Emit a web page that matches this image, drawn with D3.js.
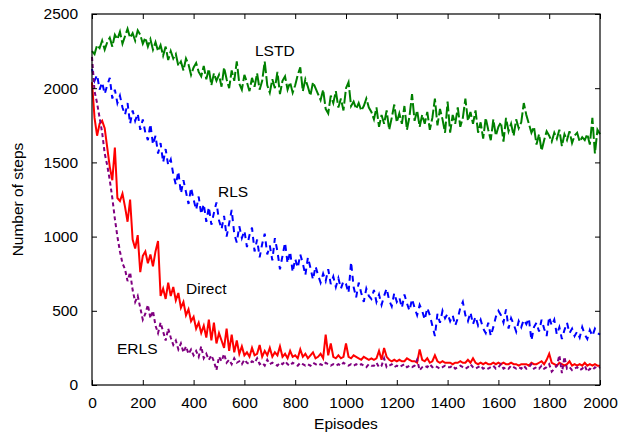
<!DOCTYPE html>
<meta charset="utf-8">
<style>
  body { margin: 0; background: #fff; }
  text { font-family: "Liberation Sans", Arial, sans-serif; fill: #000; }
  .tick text { font-size: 15.5px; }
  .label { font-size: 15.5px; }
  .line { fill: none; stroke-width: 2; stroke-linejoin: miter; }
</style>
<body>
<script src="https://d3js.org/d3.v7.min.js"></script>
<script>

// Episodes sampled every 10 steps
var episodes = d3.range(0, 2001, 10);

var xTicks = [0, 200, 400, 600, 800, 1000, 1200, 1400, 1600, 1800, 2000];
var yTicks = [0, 500, 1000, 1500, 2000, 2500];

// Number of steps per episode
var lstd = [2250,
  2230, 2290, 2270, 2320, 2260, 2310, 2340, 2280, 2360, 2330,
  2380, 2300, 2350, 2400, 2340, 2370, 2320, 2390, 2360, 2300,
  2340, 2280, 2330, 2260, 2310, 2250, 2290, 2220, 2280, 2190,
  2250, 2200, 2230, 2150, 2180, 2120, 2200, 2160, 2090, 2140,
  2170, 2110, 2080, 2150, 2060, 2130, 2020, 2100, 2050, 2090,
  2010, 2140, 2060, 2000, 2120, 2050, 2180, 2030, 1990, 2090,
  2040, 1980, 2070, 2010, 2100, 1990, 2050, 2180, 2020, 1970,
  2060, 2000, 2110, 1960, 2050, 2080, 1990, 2040, 1970, 2020,
  2090, 2140, 1980, 2060, 2010, 1950, 2040, 2000, 1960, 1920,
  1990, 1860, 1830, 1950, 1900, 1980, 1870, 1930, 1850, 2000,
  2040, 1880, 1910, 1860, 1900, 1850, 1880, 1930, 1870, 1840,
  1790, 1870, 1740, 1820, 1760, 1850, 1720, 1800, 1890, 1770,
  1830, 1760, 1880, 1720, 1810, 1960, 1780, 1850, 1740, 1820,
  1760, 1840, 1720, 1800, 1930, 1750, 1860, 1790, 1700, 1910,
  1700, 1820, 1760, 1870, 1740, 1800, 1930, 1780, 1840, 1760,
  1850, 1700, 1770, 1660, 1800, 1720, 1650, 1790, 1680, 1740,
  1770, 1640, 1800, 1710, 1760, 1680, 1790, 1730, 1770, 1900,
  1820, 1760, 1700, 1740, 1620, 1690, 1580, 1650, 1710, 1680,
  1640, 1700, 1660, 1720, 1610, 1690, 1650, 1710, 1630, 1680,
  1700, 1640, 1670, 1650, 1690, 1620, 1800, 1560, 1720, 1690];

var rls = [2130,
  2050, 2090, 1990, 2040, 1960, 2020, 2070, 1930, 1990, 1900,
  1950, 1870, 1820, 1900, 1760, 1850, 1780, 1830, 1720, 1790,
  1700, 1650, 1760, 1620, 1680, 1560, 1630, 1500, 1590, 1480,
  1520, 1420, 1350, 1440, 1290, 1380, 1300, 1220, 1330, 1250,
  1180, 1270, 1150, 1220, 1100, 1200, 1080, 1160, 1230, 1110,
  1050, 1140, 1000, 1090, 1180, 1020, 960, 1070, 990, 1040,
  930, 1010, 1060, 900, 980, 860, 950, 1020, 880, 940,
  840, 990, 900, 780, 870, 960, 820, 900, 760, 850,
  790, 880, 820, 740, 860, 790, 710, 800, 740, 690,
  750, 700, 780, 680, 730, 660, 720, 650, 700, 680,
  620, 830, 660, 590, 690, 620, 560, 650, 600, 580,
  640, 560, 610, 540, 600, 650, 570, 530, 620, 560,
  590, 520, 610, 550, 500, 580, 520, 470, 540, 500,
  440, 520, 470, 400, 330, 480, 420, 500, 450, 480,
  430, 470, 400, 450, 520, 560, 470, 430, 490, 410,
  460, 400, 440, 380, 350, 420, 330, 390, 460, 500,
  470, 420, 510, 380, 450, 410, 360, 430, 390, 440,
  410, 450, 300, 390, 420, 360, 440, 380, 330, 460,
  400, 440, 340, 390, 310, 370, 420, 350, 380, 330,
  360, 320, 390, 340, 310, 370, 330, 380, 350, 340];

var direct = [2040,
  1800, 1680, 1760, 1780, 1730, 1600, 1470, 1380, 1600, 1260,
  1240, 1290, 1200, 1100, 1250, 980, 920, 1010, 760, 870,
  900, 820, 880, 800, 900, 970, 600, 650, 580, 690,
  600, 660, 570, 620, 520, 560, 470, 510, 430, 460,
  380, 420, 350, 400, 320, 440, 300, 420, 280, 350,
  300, 250, 380, 230, 340, 220, 300, 210, 260, 200,
  220, 190, 250, 200, 210, 270, 190, 230, 200, 250,
  190, 220, 200, 260, 190, 210, 180, 230, 190, 200,
  180, 240, 190, 210, 180, 200, 220, 180, 190, 210,
  180, 340, 200, 280, 190, 180, 200, 180, 190, 280,
  190, 180, 200, 190, 180, 170, 190, 180, 170, 180,
  170, 180, 230, 170, 250, 190, 170, 160, 170, 160,
  170, 160, 160, 180, 170, 160, 160, 150, 240, 170,
  160, 180, 150, 160, 200, 160, 150, 160, 150, 150,
  150, 140, 150, 150, 160, 150, 150, 170, 150, 180,
  150, 140, 150, 140, 150, 140, 140, 150, 140, 150,
  140, 150, 140, 140, 150, 140, 140, 130, 140, 140,
  140, 130, 150, 140, 140, 150, 160, 140, 170, 210,
  150, 140, 130, 150, 140, 130, 140, 160, 130, 140,
  130, 140, 130, 150, 130, 140, 130, 140, 130, 130];

var erls = [2210,
  1980, 1900, 1800, 1700, 1560, 1480, 1380, 1260, 1120, 1000,
  900, 820, 780, 700, 760, 640, 560, 600, 520, 440,
  480, 540, 450, 500, 400, 350, 420, 360, 300, 380,
  320, 270, 300, 240, 280, 220, 260, 210, 240, 200,
  230, 190, 260, 180, 210, 170, 200, 160, 100, 190,
  160, 210, 150, 170, 140, 180, 150, 160, 140, 170,
  150, 140, 160, 150, 180, 140, 150, 130, 170, 140,
  150, 140, 130, 150, 140, 160, 140, 130, 150, 140,
  130, 150, 140, 130, 140, 130, 150, 140, 130, 140,
  130, 150, 140, 130, 140, 130, 140, 130, 150, 140,
  130, 140, 130, 140, 130, 140, 130, 120, 140, 130,
  130, 150, 120, 130, 180, 120, 130, 140, 120, 130,
  120, 130, 140, 120, 130, 120, 130, 170, 100, 120,
  130, 120, 140, 120, 130, 120, 110, 120, 130, 120,
  120, 130, 110, 120, 130, 120, 110, 120, 140, 120,
  110, 120, 130, 110, 120, 110, 120, 130, 110, 120,
  140, 110, 120, 110, 130, 120, 110, 120, 110, 130,
  110, 120, 140, 110, 120, 110, 130, 110, 120, 140,
  90, 110, 130, 200, 80, 190, 110, 120, 100, 110,
  120, 100, 110, 130, 90, 110, 100, 120, 110, 120];

var series = [
  {name: "LSTD",   values: lstd,   color: "#008000", dash: "12,3", lx: 255, ly: 56},
  {name: "RLS",    values: rls,    color: "#0000ff", dash: "6,5",  lx: 218, ly: 197},
  {name: "Direct", values: direct, color: "#ff0000", dash: null,   lx: 186, ly: 294},
  {name: "ERLS",   values: erls,   color: "#800080", dash: "4,3",  lx: 117, ly: 354}
];

var margin = {top: 14, right: 29, bottom: 47, left: 92},
    width = 629 - margin.left - margin.right,
    height = 432 - margin.top - margin.bottom;

var svg = d3.select("body").append("svg")
    .attr("width", 629)
    .attr("height", 432);

var g = svg.append("g")
    .attr("transform", "translate(" + margin.left + "," + margin.top + ")");

var x = d3.scaleLinear().domain([0, 2000]).range([0, width]);
var y = d3.scaleLinear().domain([0, 2500]).range([height, 0]);

// lines
var line = d3.line()
    .x(function(d) { return x(d[0]); })
    .y(function(d) { return y(d[1]); });

series.forEach(function(s) {
  g.append("path")
    .datum(episodes.map(function(e, i) { return [e, s.values[i]]; }))
    .attr("class", "line")
    .attr("stroke", s.color)
    .attr("stroke-dasharray", s.dash)
    .attr("d", line);
});

// axes, gnuplot style: ticks pointing inward on all four sides
var fmt = d3.format("d");

g.append("g")
    .attr("transform", "translate(0," + height + ")")
    .call(d3.axisBottom(x).tickValues(xTicks).tickSizeInner(-5).tickSizeOuter(0)
      .tickPadding(12).tickFormat(fmt));

g.append("g")
    .call(d3.axisTop(x).tickValues(xTicks).tickSizeInner(-5).tickSizeOuter(0).tickFormat(""));

g.append("g")
    .call(d3.axisLeft(y).tickValues(yTicks).tickSizeInner(-5).tickSizeOuter(0)
      .tickPadding(14).tickFormat(fmt));

g.append("g")
    .attr("transform", "translate(" + width + ",0)")
    .call(d3.axisRight(y).tickValues(yTicks).tickSizeInner(-5).tickSizeOuter(0).tickFormat(""));

g.selectAll(".domain").remove();
g.selectAll(".tick line").attr("stroke", "#000");
g.selectAll(".tick text").attr("fill", "#000").attr("font-family", null).attr("font-size", null);

g.append("rect")
    .attr("width", width)
    .attr("height", height)
    .attr("fill", "none")
    .attr("stroke", "#000")
    .attr("stroke-width", 1.2);

// series labels
series.forEach(function(s) {
  svg.append("text")
    .attr("class", "label")
    .attr("x", s.lx)
    .attr("y", s.ly)
    .text(s.name);
});

// axis titles
svg.append("text")
    .attr("class", "label")
    .attr("x", margin.left + width / 2)
    .attr("y", 429)
    .attr("text-anchor", "middle")
    .text("Episodes");

svg.append("text")
    .attr("class", "label")
    .attr("transform", "translate(23," + (margin.top + height / 2) + ") rotate(-90)")
    .attr("text-anchor", "middle")
    .text("Number of steps");

</script>
